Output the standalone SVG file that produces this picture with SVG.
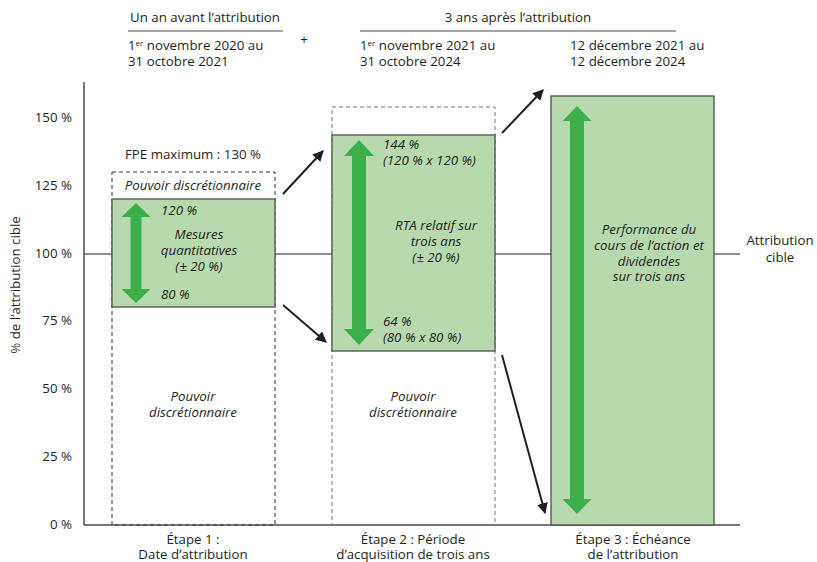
<svg xmlns="http://www.w3.org/2000/svg" width="817" height="562" viewBox="0 0 817 562">
<defs>
<style>
text{font-family:"Open Sans","Noto Sans","Liberation Sans",sans-serif;font-size:13.3px;fill:#231f20}
.it{font-style:italic}
.c{text-anchor:middle}
.r{text-anchor:end}
.box{fill:#b8d9ae;stroke:#4d4d4d;stroke-width:1.3}
.dash{fill:none;stroke-width:1;stroke-dasharray:4 3}
.garrow{fill:#3daf4a}
.conn{stroke:#231f20;stroke-width:2;fill:none;marker-end:url(#ah)}
</style>
<marker id="ah" viewBox="0 0 10 10" refX="9" refY="5" markerWidth="5.5" markerHeight="5.5" orient="auto" markerUnits="strokeWidth">
<path d="M0,0 L10,5 L0,10 z" fill="#231f20"/>
</marker>
</defs>
<rect width="817" height="562" fill="#fff"/>

<g id="header">
<text x="205" y="22" class="c">Un an avant l’attribution</text>
<line x1="128" y1="31" x2="283" y2="31" stroke="#4d4d4d" stroke-width="1.2"/>
<text x="128" y="50">1<tspan font-size="8" dy="-4">er</tspan><tspan dy="4"> novembre 2020 au</tspan></text>
<text x="128" y="66">31 octobre 2021</text>
<text x="304" y="44" class="c" font-size="11">+</text>
<text x="518" y="22" class="c">3 ans après l’attribution</text>
<line x1="360" y1="31" x2="676" y2="31" stroke="#4d4d4d" stroke-width="1.2"/>
<text x="360" y="50">1<tspan font-size="8" dy="-4">er</tspan><tspan dy="4"> novembre 2021 au</tspan></text>
<text x="360" y="66">31 octobre 2024</text>
<text x="570" y="50">12 décembre 2021 au</text>
<text x="570" y="66">12 décembre 2024</text>
</g>

<g id="axis">
<line x1="84" y1="254" x2="740" y2="254" stroke="#231f20" stroke-width="1"/>
<line x1="84" y1="82" x2="84" y2="525" stroke="#4d4d4d" stroke-width="1.5"/>
<line x1="84" y1="525" x2="740" y2="525" stroke="#4d4d4d" stroke-width="1.5"/>
<text x="72" y="122" class="r">150 %</text>
<text x="72" y="190" class="r">125 %</text>
<text x="72" y="258" class="r">100 %</text>
<text x="72" y="325" class="r">75 %</text>
<text x="72" y="393" class="r">50 %</text>
<text x="72" y="461" class="r">25 %</text>
<text x="72" y="529" class="r">0 %</text>
<text transform="translate(20,285) rotate(-90)" class="c">% de l’attribution cible</text>
<text x="780" y="245" class="c">Attribution</text>
<text x="780" y="262" class="c">cible</text>
</g>

<g id="stage1">
<text x="193" y="159" class="c">FPE maximum : 130 %</text>
<rect x="112" y="172" width="163" height="353" class="dash" stroke="#333"/>
<text x="193" y="190" class="c it">Pouvoir discrétionnaire</text>
<rect x="112" y="199" width="163" height="108" class="box"/>
<path class="garrow" d="M136,203 L150.5,217 L141.5,217 L141.5,289 L150.5,289 L136,303 L121.5,289 L130.5,289 L130.5,217 L121.5,217 z"/>
<text x="161" y="215" class="it">120 %</text>
<text x="199" y="239" class="c it">Mesures</text>
<text x="199" y="255" class="c it">quantitatives</text>
<text x="199" y="271" class="c it">(± 20 %)</text>
<text x="161" y="299" class="it">80 %</text>
<text x="193" y="401" class="c it">Pouvoir</text>
<text x="193" y="417" class="c it">discrétionnaire</text>
<text x="193" y="544" class="c">Étape 1 :</text>
<text x="193" y="559" class="c">Date d’attribution</text>
</g>

<g id="stage2">
<rect x="332" y="107" width="163" height="418" class="dash" stroke="#777"/>
<rect x="332" y="135" width="163" height="216" class="box"/>
<path class="garrow" d="M359,140 L374,156 L366,156 L366,329 L374,329 L359,345 L344,329 L352,329 L352,156 L344,156 z"/>
<text x="383" y="149" class="it">144 %</text>
<text x="383" y="165" class="it">(120 % x 120 %)</text>
<text x="436" y="230" class="c it">RTA relatif sur</text>
<text x="436" y="246" class="c it">trois ans</text>
<text x="436" y="262" class="c it">(± 20 %)</text>
<text x="383" y="326" class="it">64 %</text>
<text x="383" y="342" class="it">(80 % x 80 %)</text>
<text x="413" y="401" class="c it">Pouvoir</text>
<text x="413" y="417" class="c it">discrétionnaire</text>
<text x="413" y="544" class="c">Étape 2 : Période</text>
<text x="413" y="559" class="c">d’acquisition de trois ans</text>
</g>

<g id="stage3">
<rect x="551" y="96" width="163" height="429" class="box"/>
<path class="garrow" d="M577,106 L591.5,121 L584,121 L584,499 L591.5,499 L577,514 L562.5,499 L570,499 L570,121 L562.5,121 z"/>
<text x="649" y="234" class="c it">Performance du</text>
<text x="649" y="250" class="c it">cours de l’action et</text>
<text x="649" y="266" class="c it">dividendes</text>
<text x="649" y="281" class="c it">sur trois ans</text>
<text x="633" y="544" class="c">Étape 3 : Échéance</text>
<text x="633" y="559" class="c">de l’attribution</text>
</g>

<g id="connectors">
<line x1="283" y1="194" x2="323" y2="151" class="conn"/>
<line x1="283" y1="305" x2="326" y2="342" class="conn"/>
<line x1="502" y1="133" x2="543" y2="90" class="conn"/>
<line x1="502" y1="355" x2="545" y2="513" class="conn"/>
</g>
</svg>
